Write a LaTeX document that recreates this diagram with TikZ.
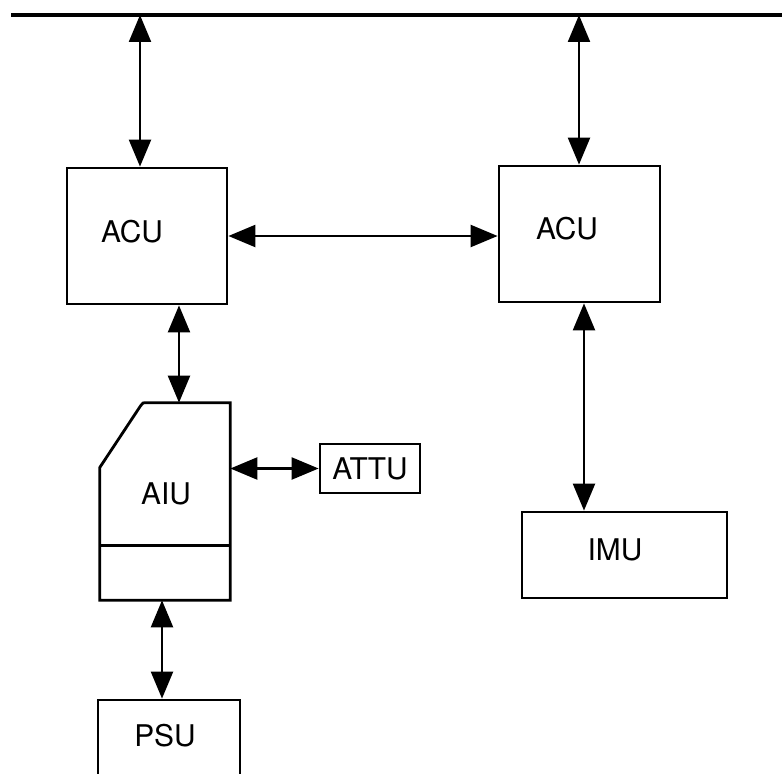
\documentclass[tikz,border=0pt]{standalone}
\usepackage{fontspec}
\setmainfont{TeX Gyre Heros}
\usepackage{tikz}
\usetikzlibrary{arrows.meta,calc}

\begin{document}
\begin{tikzpicture}[
  x=0.02cm,y=-0.02cm,
  unit/.style={draw,line width=1.6pt,inner sep=0pt,font=\fontsize{17}{20}\selectfont},
  lbl/.style={font=\fontsize{17}{20}\selectfont,inner sep=0pt},
  edge/.style={line width=1.6pt},
  bus/.style={line width=2pt},
  arr/.style={{Triangle[length=0.54cm,width=0.44cm]}-{Triangle[length=0.54cm,width=0.44cm]},line width=1.3pt}
]
\useasboundingbox (0,0) rectangle (782,774);
\clip (0,0) rectangle (782,774);

% system bus
\coordinate (busW) at (11,15);
\coordinate (busE) at (782,15);
\coordinate (tapL) at (140,15);
\coordinate (tapR) at (579,15);
\draw[bus] (busW) -- (busE);

% units
\node[unit,minimum width=3.2cm,minimum height=2.72cm,
  label={[lbl,xshift=-0.3cm,yshift=0.08cm]center:ACU}] (acuL) at (147,236) {};
\node[unit,minimum width=3.22cm,minimum height=2.72cm,
  label={[lbl,xshift=-0.25cm,yshift=0.1cm]center:ACU}] (acuR) at (579.5,234) {};
\node[minimum width=2.6cm,minimum height=3.94cm,inner sep=0pt,
  label={[lbl,xshift=0.02cm,yshift=0.15cm]center:AIU}] (aiu) at (165,501.5) {};
\node[unit,minimum width=2.0cm,minimum height=0.98cm] (attu) at (370,468.5) {ATTU};
\node[unit,minimum width=2.84cm,minimum height=2.0cm,
  label={[lbl,xshift=-0.08cm,yshift=0.28cm]center:PSU}] (psu) at (169,750) {};
\node[unit,minimum width=4.1cm,minimum height=1.72cm,
  label={[lbl,xshift=-0.19cm,yshift=0.1cm]center:IMU}] (imu) at (624.5,555) {};

% AIU outline with cut corner
\draw[edge] (aiu.south west) -- ($(aiu.north west)+(0,65)$)
  -- ($(aiu.north west)+(41,3)$) .. controls ($(aiu.north west)+(43,0)$) .. ($(aiu.north west)+(48,0)$)
  -- (aiu.north east) -- (aiu.south east) -- cycle;
\draw[edge] ($(aiu.south west)+(0,-55)$) -- ($(aiu.south east)+(0,-55)$);

% links
\draw[arr] (tapL) -- (tapL |- acuL.north);
\draw[arr] (tapR) -- (tapR |- acuR.north);
\draw[arr] (acuL.east) -- (acuL.east -| acuR.west);
\draw[arr] ([xshift=0.64cm]acuL.south) -- ([xshift=0.64cm]acuL.south |- aiu.north);
\draw[arr] (attu.west -| aiu.east) -- (attu.west);
\draw[arr] ([xshift=-0.06cm]aiu.south) -- ([xshift=-0.06cm]aiu.south |- psu.north);
\draw[arr] ([xshift=0.09cm]acuR.south) -- ([xshift=0.09cm]acuR.south |- imu.north);
\end{tikzpicture}
\end{document}
